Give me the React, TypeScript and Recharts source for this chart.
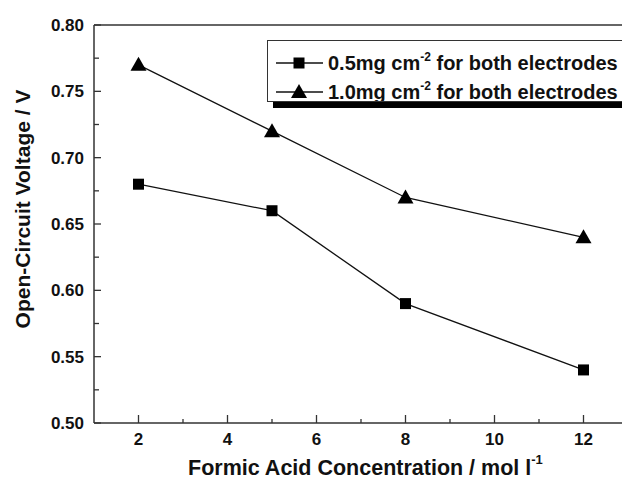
import { LineChart, Line, XAxis, YAxis, Legend } from 'recharts';

// Formic acid concentration (mol/l) vs open-circuit voltage (V)
const concentrations = [2, 5, 8, 12];
const ocvLowLoading = [0.68, 0.66, 0.59, 0.54];
const ocvHighLoading = [0.77, 0.72, 0.67, 0.64];
const legendLabels = ['0.5mg cm', '1.0mg cm'];

const xTicks = [2, 3, 4, 5, 6, 7, 8, 9, 10, 11, 12];
const yTicks = [0.5, 0.525, 0.55, 0.575, 0.6, 0.625, 0.65, 0.675, 0.7, 0.725, 0.75, 0.775, 0.8];

const data = concentrations.map((c, i) => ({
  conc: c,
  low: ocvLowLoading[i],
  high: ocvHighLoading[i],
}));

const FONT = '"Liberation Sans", Arial, sans-serif';
const AXIS = '#333';

const SquareDot = ({ cx, cy }: any) => (
  <rect x={cx - 5.5} y={cy - 5.5} width={11} height={11} fill="#000" />
);

const TriangleDot = ({ cx, cy }: any) => (
  <polygon points={`${cx},${cy - 8} ${cx - 8},${cy + 6} ${cx + 8},${cy + 6}`} fill="#000" />
);

const YTick = ({ x, y, payload, index }: any) => {
  const major = index % 2 === 0;
  return (
    <g>
      <line x1={x} x2={x + (major ? 7 : 5)} y1={y} y2={y} stroke={AXIS} strokeWidth={1.3} />
      {major && (
        <text x={x - 10} y={y + 6} textAnchor="end" fontFamily={FONT} fontWeight="bold" fontSize={17} fill="#111">
          {payload.value.toFixed(2)}
        </text>
      )}
    </g>
  );
};

const XTick = ({ x, y, payload }: any) => {
  const major = payload.value % 2 === 0;
  return (
    <g>
      <line x1={x} x2={x} y1={y} y2={y - (major ? 8 : 4)} stroke={AXIS} strokeWidth={1.3} />
      {major && (
        <text x={x} y={y + 22} textAnchor="middle" fontFamily={FONT} fontWeight="bold" fontSize={17} fill="#111">
          {payload.value}
        </text>
      )}
    </g>
  );
};

const LegendBox = () => (
  <div
    style={{
      width: 420,
      height: 62,
      boxSizing: 'border-box',
      border: `1.5px solid ${AXIS}`,
      background: '#fff',
      boxShadow: '6px 6px 0 #000',
    }}
  >
    <svg width={420} height={60} style={{ display: 'block' }}>
      {legendLabels.map((lbl, i) => {
        const cy = 22 + i * 29;
        return (
          <g key={lbl}>
            <line x1={8} x2={55} y1={cy} y2={cy} stroke="#111" strokeWidth={1.3} />
            {i === 0 ? <SquareDot cx={31} cy={cy} /> : <TriangleDot cx={31} cy={cy} />}
            <text x={60} y={cy + 7} fontFamily={FONT} fontWeight="bold" fontSize={20} fill="#111">
              {lbl}
              <tspan dy={-9} fontSize={12}>-2</tspan>
              <tspan dy={9}> for both electrodes</tspan>
            </text>
          </g>
        );
      })}
    </svg>
  </div>
);

export default function App() {
  return (
    <div
      style={{
        position: 'absolute',
        left: 8,
        top: 8,
        width: 614,
        height: 473,
        overflow: 'hidden',
        background: '#fff',
      }}
    >
      <LineChart width={640} height={473} data={data} margin={{ top: 17, right: 20, bottom: 0, left: 0 }}>
        <XAxis
          dataKey="conc"
          type="number"
          domain={[1, 13]}
          ticks={xTicks}
          interval={0}
          tickSize={0}
          tickMargin={0}
          tickLine={false}
          tick={<XTick />}
          height={58}
          axisLine={{ stroke: AXIS, strokeWidth: 1.5 }}
        />
        <YAxis
          type="number"
          domain={[0.5, 0.8]}
          ticks={yTicks}
          interval={0}
          tickSize={0}
          tickMargin={0}
          tickLine={false}
          tick={<YTick />}
          width={86}
          axisLine={{ stroke: AXIS, strokeWidth: 1.5 }}
        />
        <Legend
          layout="horizontal"
          verticalAlign="middle"
          align="center"
          content={<LegendBox />}
          wrapperStyle={{ position: 'absolute', left: 259, top: 31.5, width: 420, height: 62 }}
        />
        <Line
          dataKey="low"
          stroke="#111"
          strokeWidth={1.3}
          dot={<SquareDot />}
          isAnimationActive={false}
        />
        <Line
          dataKey="high"
          stroke="#111"
          strokeWidth={1.3}
          dot={<TriangleDot />}
          isAnimationActive={false}
        />
      </LineChart>
      <svg width={614} height={473} style={{ position: 'absolute', left: 0, top: 0, pointerEvents: 'none' }}>
        {/* top frame of the plot box */}
        <line x1={86} x2={614} y1={17} y2={17} stroke={AXIS} strokeWidth={1.5} />
        <text
          x={22}
          y={201}
          transform="rotate(-90 22 201)"
          textAnchor="middle"
          fontFamily={FONT}
          fontWeight="bold"
          fontSize={21}
          fill="#111"
        >
          Open-Circuit Voltage / V
        </text>
        <text x={180} y={467} fontFamily={FONT} fontWeight="bold" fontSize={21.5} fill="#111">
          Formic Acid Concentration / mol l
          <tspan dy={-11} fontSize={13}>-1</tspan>
        </text>
      </svg>
    </div>
  );
}
